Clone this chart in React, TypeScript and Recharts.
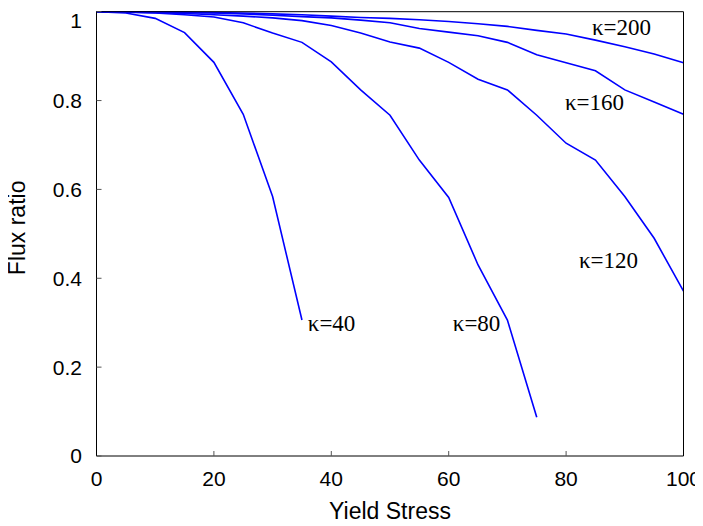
import React from "react";
import {
  LineChart,
  Line,
  XAxis,
  YAxis,
  ReferenceDot,
} from "recharts";

const yieldStress = [0, 5, 10, 15, 20, 25, 30, 35, 40, 45, 50, 55, 60, 65, 70, 75, 80, 85, 90, 95, 100];

// flux ratio per kappa, one value per yield stress step (shorter curves stop early)
const kappa40 = [1, 0.997, 0.985, 0.953, 0.886, 0.769, 0.584, 0.306];
const kappa80 = [1, 0.999, 0.997, 0.993, 0.988, 0.975, 0.952, 0.931, 0.887, 0.824, 0.767, 0.666, 0.582, 0.43, 0.306, 0.087];
const kappa120 = [1, 0.9995, 0.998, 0.996, 0.993, 0.99, 0.986, 0.98, 0.969, 0.952, 0.932, 0.918, 0.886, 0.848, 0.824, 0.767, 0.704, 0.666, 0.584, 0.49, 0.371];
const kappa160 = [1, 1, 0.999, 0.998, 0.997, 0.995, 0.992, 0.989, 0.986, 0.981, 0.975, 0.962, 0.954, 0.946, 0.931, 0.903, 0.885, 0.867, 0.824, 0.797, 0.769];
const kappa200 = [1, 1, 1, 0.999, 0.998, 0.997, 0.995, 0.993, 0.99, 0.987, 0.985, 0.982, 0.978, 0.973, 0.967, 0.958, 0.95, 0.936, 0.921, 0.905, 0.885];

const xTicks = [0, 20, 40, 60, 80, 100];
const yTicks = [0, 0.2, 0.4, 0.6, 0.8, 1];

// curve labels, anchored in data coordinates (text start / baseline)
const curveLabels = [
  { text: "κ=200", x: 84.4, y: 0.948 },
  { text: "κ=160", x: 79.8, y: 0.779 },
  { text: "κ=120", x: 82.2, y: 0.4225 },
  { text: "κ=80", x: 60.7, y: 0.282 },
  { text: "κ=40", x: 36.0, y: 0.282 },
];

const series = [
  { key: "k40", values: kappa40 },
  { key: "k80", values: kappa80 },
  { key: "k120", values: kappa120 },
  { key: "k160", values: kappa160 },
  { key: "k200", values: kappa200 },
];

const data = yieldStress.map((x, i) => {
  const row: Record<string, number | undefined> = { x };
  series.forEach((s) => {
    row[s.key] = s.values[i];
  });
  return row;
});

const SANS = "'Liberation Sans', Arial, sans-serif";
const SERIF = "'Liberation Serif', 'Times New Roman', serif";
const tickStyle = { fontSize: 21, fill: "#000", fontFamily: SANS };

export default function App() {
  return (
    // pull the svg over the body margin so the rotated y title has room on the left
    <div style={{ marginLeft: -8 }}>
      <LineChart
        width={703}
        height={516}
        data={data}
        margin={{ top: 2.7, right: 18.5, bottom: 2, left: 8 }}
      >
        <XAxis
          dataKey="x"
          type="number"
          domain={[0, 100]}
          ticks={xTicks}
          tickSize={-5}
          tickMargin={20}
          tick={tickStyle}
          axisLine={{ stroke: "#000" }}
          tickLine={{ stroke: "#555" }}
          height={66}
          label={{
            content: ({ viewBox }: any) => (
              <text
                x={viewBox.x + viewBox.width / 2}
                y={viewBox.y + 62.7}
                textAnchor="middle"
                fontSize={23}
                fontFamily={SANS}
                fill="#000"
              >
                Yield Stress
              </text>
            ),
          }}
        />
        {/* top and right axes only close the frame with inward ticks */}
        <XAxis
          xAxisId="top"
          orientation="top"
          type="number"
          domain={[0, 100]}
          allowDataOverflow
          ticks={xTicks}
          tick={false}
          tickSize={-5}
          height={1}
          axisLine={{ stroke: "#000" }}
          tickLine={{ stroke: "#555" }}
        />
        <YAxis
          type="number"
          domain={[0, 1]}
          ticks={yTicks}
          tickSize={-5}
          tickMargin={19.5}
          tick={tickStyle}
          width={88.5}
          axisLine={{ stroke: "#000" }}
          tickLine={{ stroke: "#555" }}
          label={{
            content: ({ viewBox }: any) => {
              const cx = viewBox.x + 9;
              const cy = viewBox.y + viewBox.height / 2 - 6;
              return (
                <text
                  x={cx}
                  y={cy}
                  dy="0.36em"
                  transform={`rotate(-90, ${cx}, ${cy})`}
                  textAnchor="middle"
                  fontSize={23}
                  fontFamily={SANS}
                  fill="#000"
                >
                  Flux ratio
                </text>
              );
            },
          }}
        />
        <YAxis
          yAxisId="right"
          orientation="right"
          type="number"
          domain={[0, 1]}
          allowDataOverflow
          ticks={yTicks}
          tick={false}
          tickSize={-5}
          width={1}
          axisLine={{ stroke: "#000" }}
          tickLine={{ stroke: "#555" }}
        />
        {series.map((s) => (
          <Line
            key={s.key}
            dataKey={s.key}
            type="linear"
            stroke="#0000ff"
            strokeWidth={1.6}
            dot={false}
            activeDot={false}
            isAnimationActive={false}
          />
        ))}
        {curveLabels.map((l) => (
          <ReferenceDot
            key={l.text}
            x={l.x}
            y={l.y}
            r={0}
            ifOverflow="visible"
            shape={(p: any) => (
              <text x={p.cx} y={p.cy} fontSize={23} fontFamily={SERIF} fill="#000">
                {l.text}
              </text>
            )}
          />
        ))}
      </LineChart>
    </div>
  );
}
